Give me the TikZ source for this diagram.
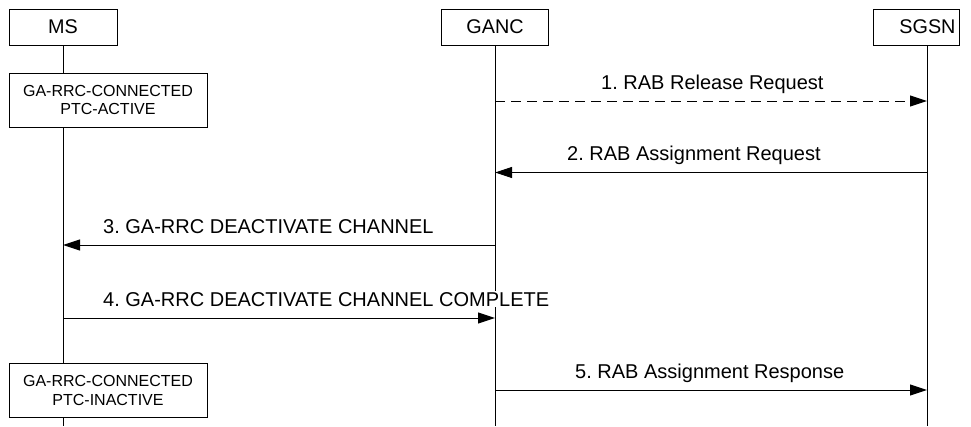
\documentclass[tikz,border=0pt]{standalone}
\usepackage{fontspec}
\setmainfont{Liberation Sans}
\usetikzlibrary{arrows.meta}
\frenchspacing
\begin{document}
\begin{tikzpicture}[x=1pt,y=-1pt,
  ent/.style={draw, line width=1pt, minimum height=36pt, inner sep=0pt, font=\fontsize{19.8}{22}\selectfont},
  statebox/.style={draw, fill=white, line width=1pt, minimum width=198pt, minimum height=54pt, align=center, inner sep=0pt, font=\fontsize{16}{18.5}\selectfont},
  life/.style={line width=1pt},
  msg/.style={line width=1pt, -{Triangle[length=17pt,width=11pt]}},
  lbl/.style={anchor=base west, fill=white, inner xsep=0pt, inner ysep=1pt, font=\fontsize{20}{22}\selectfont}]
\useasboundingbox (0,0) rectangle (971,426);
% entities
\node[ent, minimum width=108pt] (ms) at (63,27) {MS};
\node[ent, minimum width=107pt] (ganc) at (495,27) {GANC};
\node[ent, text width=78pt, align=right, inner xsep=4pt, anchor=west] (sgsn) at (873,27) {SGSN};
% lifelines
\coordinate (msB) at (63,426);
\coordinate (gancB) at (495,426);
\coordinate (sgsnT) at (927,45);
\coordinate (sgsnB) at (927,426);
\draw[life] (ms.south) -- (msB);
\draw[life] (ganc.south) -- (gancB);
\draw[life] (sgsnT) -- (sgsnB);
% states
\node[statebox] (s1) at (108,100) {GA-RRC-CONNECTED\\PTC-ACTIVE};
\node[statebox] (s2) at (108,390.5) {GA-RRC-CONNECTED\\PTC-INACTIVE};
% message points
\coordinate (g1) at (495,101);   \coordinate (q1) at (927,101);
\coordinate (g2) at (495,172.5); \coordinate (q2) at (927,172.5);
\coordinate (g3) at (495,245);   \coordinate (m3) at (63,245);
\coordinate (g4) at (495,318);   \coordinate (m4) at (63,318);
\coordinate (g5) at (495,390);   \coordinate (q5) at (927,390);
% messages
\draw[msg, dash pattern=on 10pt off 6pt] (g1) -- (q1);
\draw[msg] (q2) -- (g2);
\draw[msg] (g3) -- (m3);
\draw[msg] (m4) -- (g4);
\draw[msg] (g5) -- (q5);
% labels
\node[lbl] (l1) at (601,89) {1. RAB Release Request};
\node[lbl] (l2) at (567,160.5) {2. RAB Assignment Request};
\node[lbl] (l3) at (103,233) {3. GA-RRC DEACTIVATE CHANNEL};
\node[lbl] (l4) at (103,306) {4. GA-RRC DEACTIVATE CHANNEL COMPLETE};
\node[lbl] (l5) at (575,378) {5. RAB Assignment Response};
\end{tikzpicture}
\end{document}
